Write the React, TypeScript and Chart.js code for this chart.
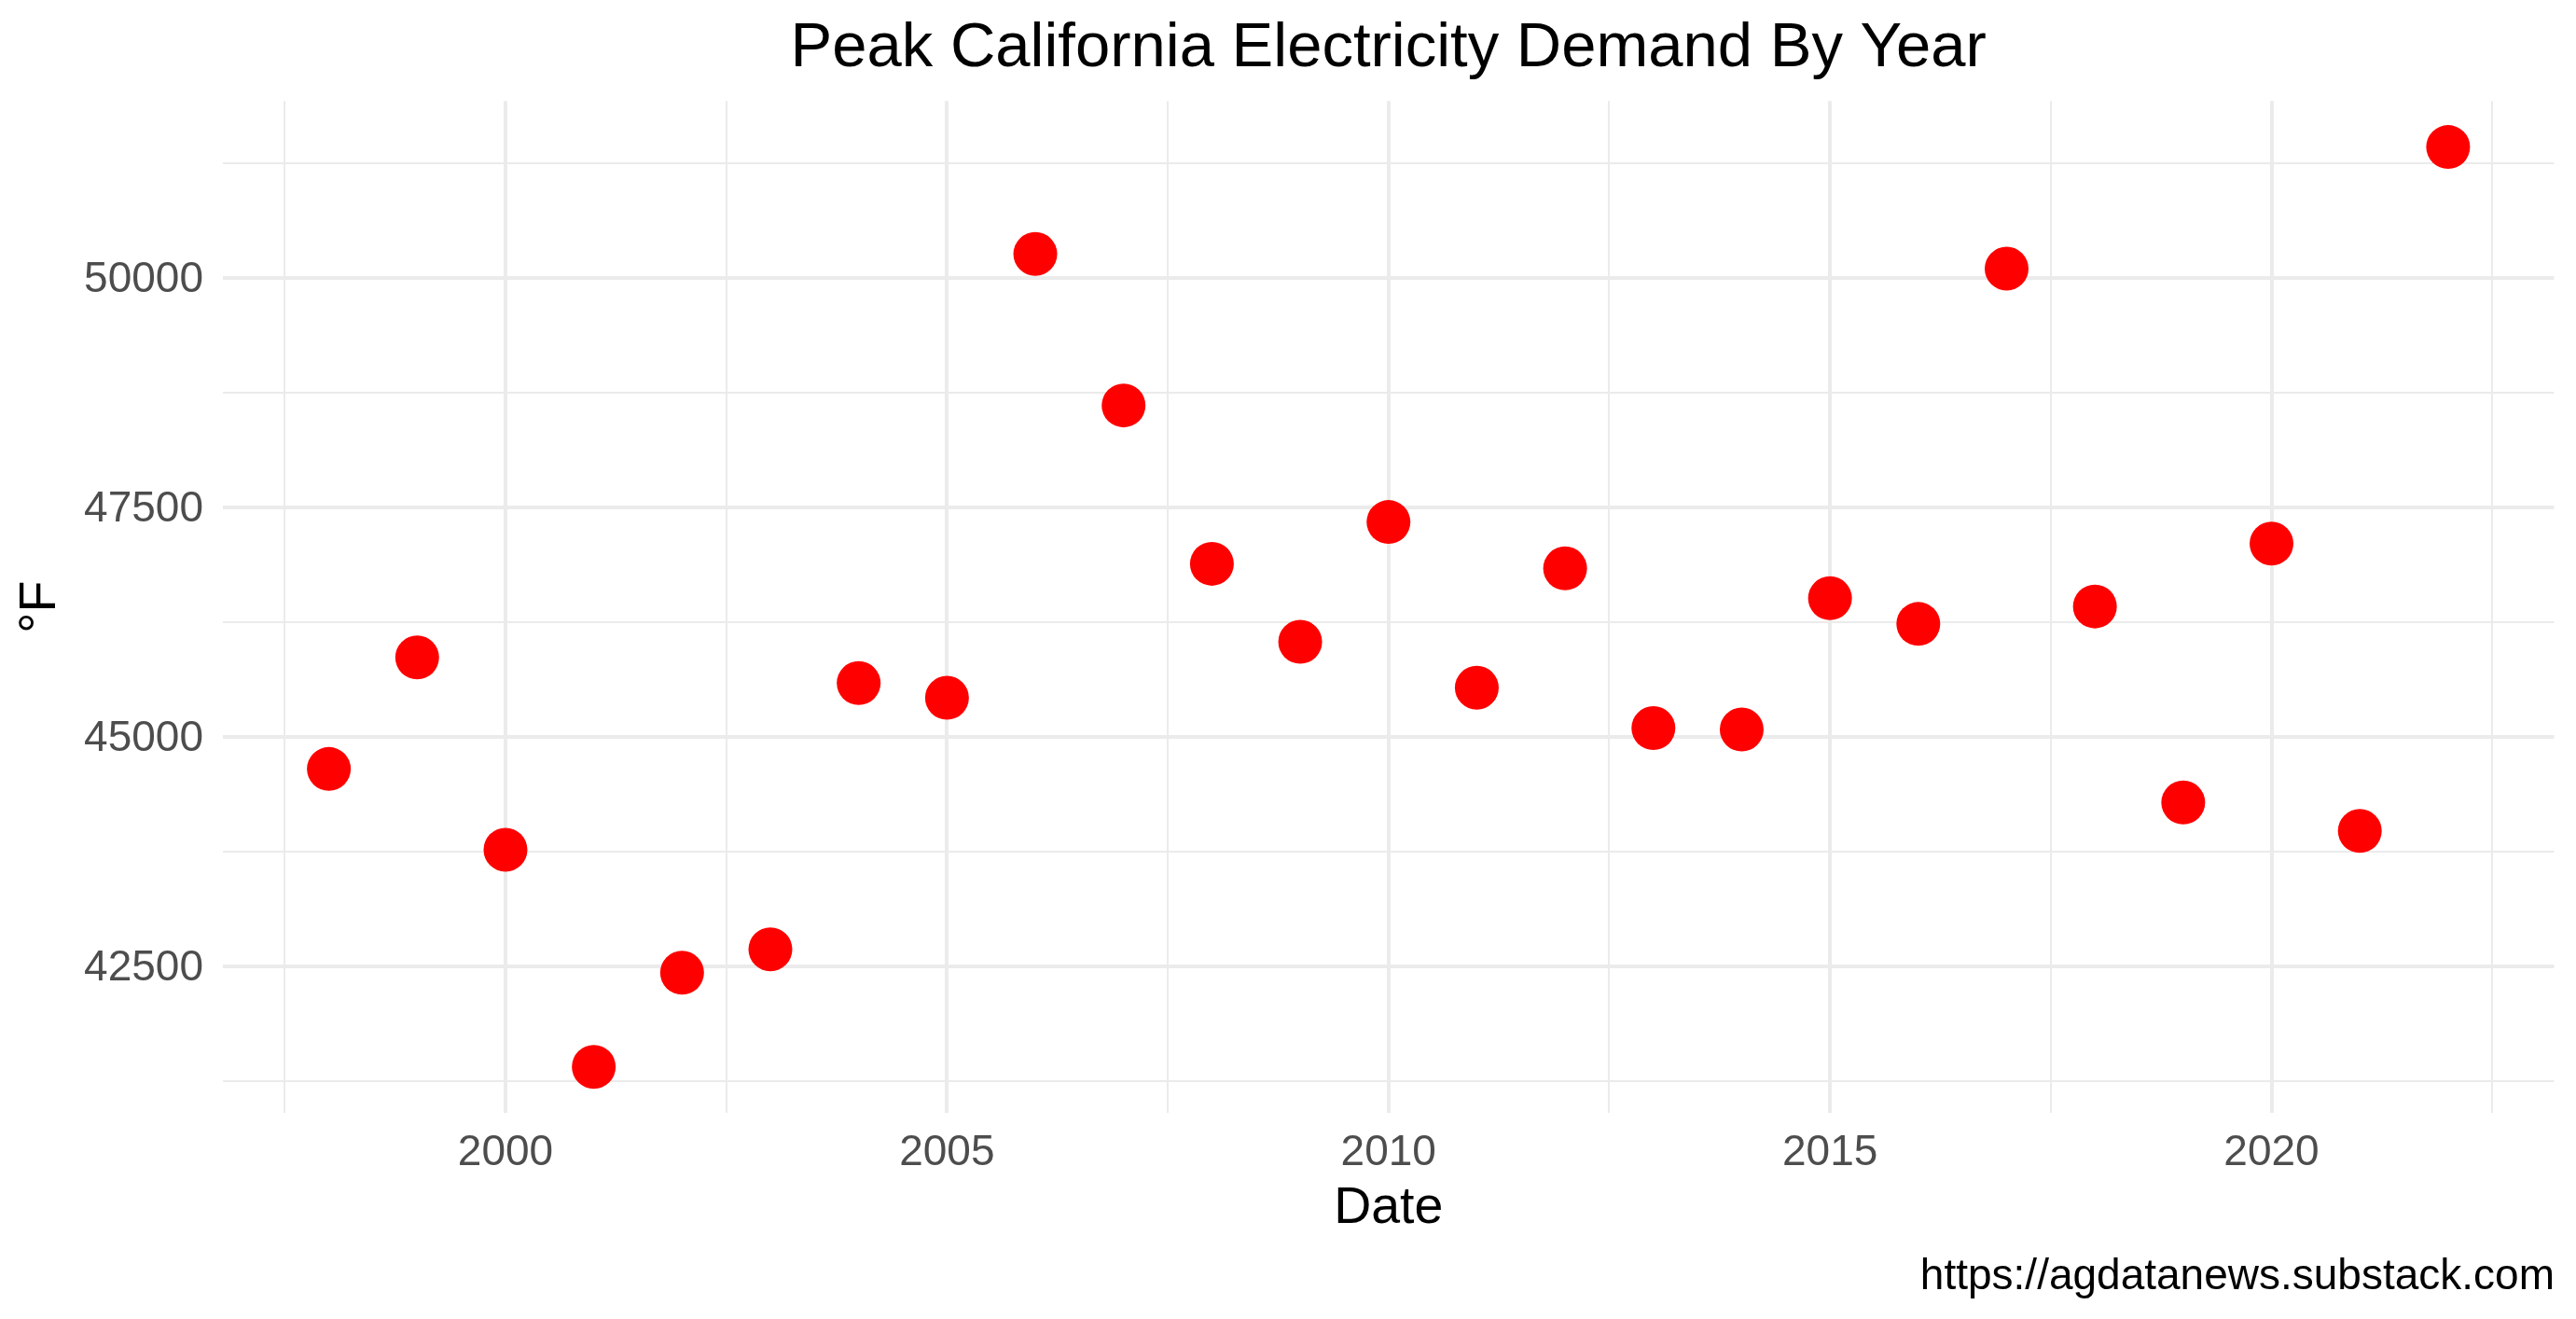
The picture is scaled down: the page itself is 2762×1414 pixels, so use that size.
import { useEffect, useRef } from "react"
import { Chart, type ChartConfiguration, registerables, type Scale } from "chart.js"

Chart.register(...registerables)

// 연도별 최대 전력 수요
const years = [
  1998, 1999, 2000, 2001, 2002, 2003, 2004, 2005, 2006, 2007, 2008, 2009, 2010, 2011, 2012, 2013, 2014, 2015,
  2016, 2017, 2018, 2019, 2020, 2021, 2022,
]
const peakDemand = [
  44650, 45865, 43770, 41405, 42430, 42685, 45585, 45425, 50260, 48610, 46885, 46035, 47340, 45535, 46835, 45095,
  45080, 46510, 46230, 50100, 46420, 44285, 47105, 43975, 51425,
]

// 축 눈금 (주 눈금은 라벨 표시, 보조 눈금은 격자선만)
const xMajorTicks = [2000, 2005, 2010, 2015, 2020]
const xMinorTicks = [1997.5, 2002.5, 2007.5, 2012.5, 2017.5, 2022.5]
const yMajorTicks = [42500, 45000, 47500, 50000]
const yMinorTicks = [41250, 43750, 46250, 48750, 51250]

const FONT = "'Liberation Sans', Arial, sans-serif"
const GRID = "#EBEBEB"

export default function App() {
  const chartRef = useRef<HTMLCanvasElement>(null)
  const chartInstance = useRef<Chart | null>(null)

  useEffect(() => {
    if (!chartRef.current) return
    const ctx = chartRef.current.getContext("2d")
    if (!ctx) return

    if (chartInstance.current) {
      chartInstance.current.destroy()
    }

    const points = years.map((year, i) => ({ x: year, y: peakDemand[i] }))
    const xTicks = [...xMajorTicks, ...xMinorTicks].sort((a, b) => a - b)
    const yTicks = [...yMajorTicks, ...yMinorTicks].sort((a, b) => a - b)

    const config: ChartConfiguration<"scatter"> = {
      type: "scatter",
      data: {
        datasets: [
          {
            label: "Peak demand",
            data: points,
            backgroundColor: "#FF0000",
            borderWidth: 0,
            pointRadius: 23.5,
            pointHoverRadius: 23.5,
          },
        ],
      },
      options: {
        responsive: false,
        animation: false,
        devicePixelRatio: 1,
        layout: { padding: { left: 0, right: 23, top: 0, bottom: 0 } },
        plugins: {
          legend: { display: false },
          tooltip: { enabled: false },
          title: {
            display: true,
            text: "Peak California Electricity Demand By Year",
            color: "#000000",
            fullSize: false,
            font: { family: FONT, size: 67, weight: "normal" },
            padding: { top: 12.5, bottom: 15.4 },
          },
          subtitle: {
            display: true,
            position: "bottom",
            align: "end",
            text: "https://agdatanews.substack.com",
            color: "#000000",
            font: { family: FONT, size: 46, weight: "normal" },
            padding: { top: 3, bottom: 17.4 },
          },
        },
        scales: {
          x: {
            type: "linear",
            min: 1996.8,
            max: 2023.2,
            afterBuildTicks: (scale: Scale) => {
              scale.ticks = xTicks.map((value) => ({ value }))
            },
            afterFit: (scale: Scale) => {
              scale.height = 145.4
            },
            border: { display: false },
            grid: {
              color: GRID,
              drawTicks: false,
              lineWidth: (c: any) => (c.tick && xMajorTicks.includes(c.tick.value) ? 4 : 2),
            },
            ticks: {
              autoSkip: false,
              maxRotation: 0,
              padding: 15.6,
              color: "#4D4D4D",
              font: { family: FONT, size: 46 },
              callback: (value: number | string) => (xMajorTicks.includes(Number(value)) ? String(value) : ""),
            },
            title: {
              display: true,
              text: "Date",
              color: "#000000",
              font: { family: FONT, size: 55.5 },
              padding: { top: 0, bottom: 9.8 },
            },
          },
          y: {
            type: "linear",
            min: 40904,
            max: 51926,
            afterBuildTicks: (scale: Scale) => {
              scale.ticks = yTicks.map((value) => ({ value }))
            },
            afterFit: (scale: Scale) => {
              scale.width = 239
            },
            border: { display: false },
            grid: {
              color: GRID,
              drawTicks: false,
              lineWidth: (c: any) => (c.tick && yMajorTicks.includes(c.tick.value) ? 4 : 2),
            },
            ticks: {
              autoSkip: false,
              padding: 21,
              labelOffset: 2,
              color: "#4D4D4D",
              font: { family: FONT, size: 46 },
              callback: (value: number | string) => (yMajorTicks.includes(Number(value)) ? String(value) : ""),
            },
            title: {
              display: true,
              text: "°F",
              color: "#000000",
              font: { family: FONT, size: 55.5 },
              padding: { top: 10.5, bottom: 0 },
            },
          },
        },
      },
    }

    chartInstance.current = new Chart(ctx, config)

    return () => {
      if (chartInstance.current) {
        chartInstance.current.destroy()
        chartInstance.current = null
      }
    }
  }, [])

  return (
    <div style={{ position: "fixed", left: 0, top: 0, width: 2762, height: 1414, background: "#FFFFFF" }}>
      <canvas ref={chartRef} width={2762} height={1414} style={{ width: 2762, height: 1414 }} />
    </div>
  )
}
